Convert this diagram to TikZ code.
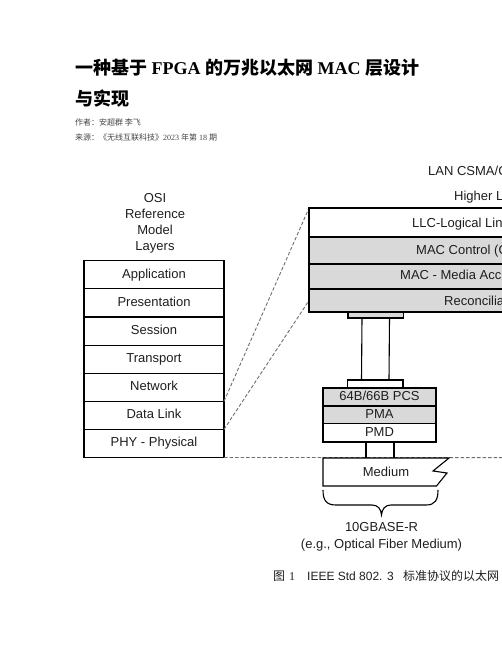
\documentclass[tikz,border=0pt]{standalone}
\usepackage{fontspec}
\setmainfont{Liberation Serif}
\newfontfamily\arialfont{Liberation Sans}
\newfontfamily\cjk{Noto Sans CJK SC}
\usetikzlibrary{positioning}
\definecolor{txt}{HTML}{1E1E1E}
\definecolor{shade}{HTML}{D9D9D9}
\definecolor{dashgray}{HTML}{6E6E6E}
\definecolor{metagray}{HTML}{444444}
\newcommand\diagfont{\arialfont\fontsize{13bp}{16bp}\selectfont}
\newcommand\tc[1]{{\cjk\bfseries #1}}

\begin{document}
\begin{tikzpicture}[x=1bp, y=-1bp,
	box/.style={draw, line width=1.1bp, inner sep=0pt, outer sep=0pt, font=\diagfont, text=txt},
	osi/.style={box, minimum width=140bp, minimum height=28.1bp, text height=9.4bp, text depth=2.7bp},
	lan/.style={box, minimum width=260bp},
	phyrow/.style={box, minimum width=113bp, fill=shade, text height=9.4bp, text depth=2.7bp},
	stub/.style={box, minimum width=55.5bp, text height=0pt, text depth=0pt},
	lbl/.style={inner sep=0pt, font=\diagfont, text=txt},
	head/.style={anchor=base west, inner sep=0pt, font=\fontsize{18bp}{22bp}\selectfont\bfseries},
	meta/.style={anchor=base west, inner sep=0pt, text=metagray, font=\fontsize{8bp}{10bp}\selectfont},
	dashline/.style={dashgray, line width=0.9bp, dash pattern=on 3.5bp off 2bp},
	wire/.style={line width=1.1bp}]
	\useasboundingbox (0,0) rectangle (502,649);
	\clip (0,0) rectangle (502,649);
	\node[head] (title) at (75,75) {\tc{一种基于} FPGA \tc{的万兆以太网} MAC \tc{层设计}};
	\node[head] (title2) at (75,106) {\tc{与实现}};
	\node[meta] (author) at (75,126) {\cjk 作者：安超群 李飞};
	\node[meta] (source) at (75,140) {{\cjk 来源：《无线互联科技》}2023 {\cjk 年第} 18 {\cjk 期}};
	\node[lbl, align=center] (osititle) at (155,223) {OSI\\Reference\\Model\\Layers};
	\node[osi] (app) at (154,274.85) {Application};
	\foreach \id/\word [remember=\id as \prev (initially app)] in
		{pres/Presentation, sess/Session, trans/Transport, net/Network, dl/Data Link, phy/PHY - Physical}
		\node[osi, below=0pt of \prev] (\id) {\word};
	\coordinate (dashend) at (510,457.6);
	\draw[dashline] (net.south east) -- (309,208);
	\draw[dashline] (dl.south east) -- (309,300.5);
	\draw[dashline] (phy.south east) -- (dashend);
	\node[lbl, anchor=base west] (lanhead) at (428,175) {LAN CSMA/C};
	\node[lbl, anchor=base west] (higher) at (454,200) {Higher L};
	\node[lan, minimum height=29bp, fill=white, anchor=north west] (llc) at (309,208) {};
	\node[lan, minimum height=27bp, fill=shade, below=0pt of llc] (macctl) {};
	\node[lan, minimum height=25bp, fill=shade, below=0pt of macctl] (mac) {};
	\node[lan, minimum height=23bp, fill=shade, below=0pt of mac] (rec) {};
	\node[lbl, anchor=base west] (llctxt) at (412,227) {LLC-Logical Lin};
	\node[lbl, anchor=base west] (macctltxt) at (416,254) {MAC Control (O};
	\node[lbl, anchor=base west] (mactxt) at (400,279.5) {MAC - Media Acc};
	\node[lbl, anchor=base west] (rectxt) at (444,305) {Reconcilia};
	\node[stub, minimum height=6bp, fill=shade, anchor=north west] (macstub) at (348,312) {};
	\node[stub, minimum height=8bp, fill=white, anchor=north west] (phystub) at (347.5,380) {};
	\draw[wire] ([xshift=14bp]macstub.south west) -- ([xshift=14bp]phystub.north west);
	\draw[wire] ([xshift=-14bp]macstub.south east) -- ([xshift=-14bp]phystub.north east);
	\node[phyrow, minimum height=18bp, anchor=north west] (pcs) at (323,388) {64B/66B PCS};
	\node[phyrow, minimum height=17.5bp, below=0pt of pcs] (pma) {PMA};
	\node[phyrow, minimum height=18.5bp, fill=white, below=0pt of pma] (pmd) {PMD};
	\coordinate (medium) at (323,458);
	\draw[wire, fill=white] (medium) -- ++(126,0) -- ++(-16,13) -- ++(14,2) -- ++(-10.5,13) -- ++(-113.5,0) -- cycle;
	\node[lbl, anchor=base] (medtxt) at (386,476) {Medium};
	\draw[wire] ([xshift=43bp]pmd.south west) -- ([xshift=43bp]pmd.south west |- medium);
	\draw[wire] ([xshift=-42bp]pmd.south east) -- ([xshift=-42bp]pmd.south east |- medium);
	\coordinate (braceL) at (323,490);
	\coordinate (braceR) at (438,490);
	\draw[wire] (braceL) .. controls (323,500) and (326,505) .. (336,505) -- (372,505)
		.. controls (378,505) and (381,509) .. (381.5,515)
		.. controls (382,509) and (385,505) .. (391,505) -- (426,505)
		.. controls (435,505) and (438,500) .. (braceR);
	\node[lbl, align=center, anchor=north] (phyname) at (381.5,522) {10GBASE-R\\[1bp](e.g., Optical Fiber Medium)};
	\node[anchor=base west, inner sep=0pt, text=txt, font=\fontsize{12bp}{14bp}\selectfont] (caption) at (273,580.5)
		{{\cjk 图}\hspace{4bp}1\hspace{12bp}{\arialfont IEEE Std 802. 3}\hspace{9.5bp}{\cjk 标准协议的以太网}};
\end{tikzpicture}
\end{document}
